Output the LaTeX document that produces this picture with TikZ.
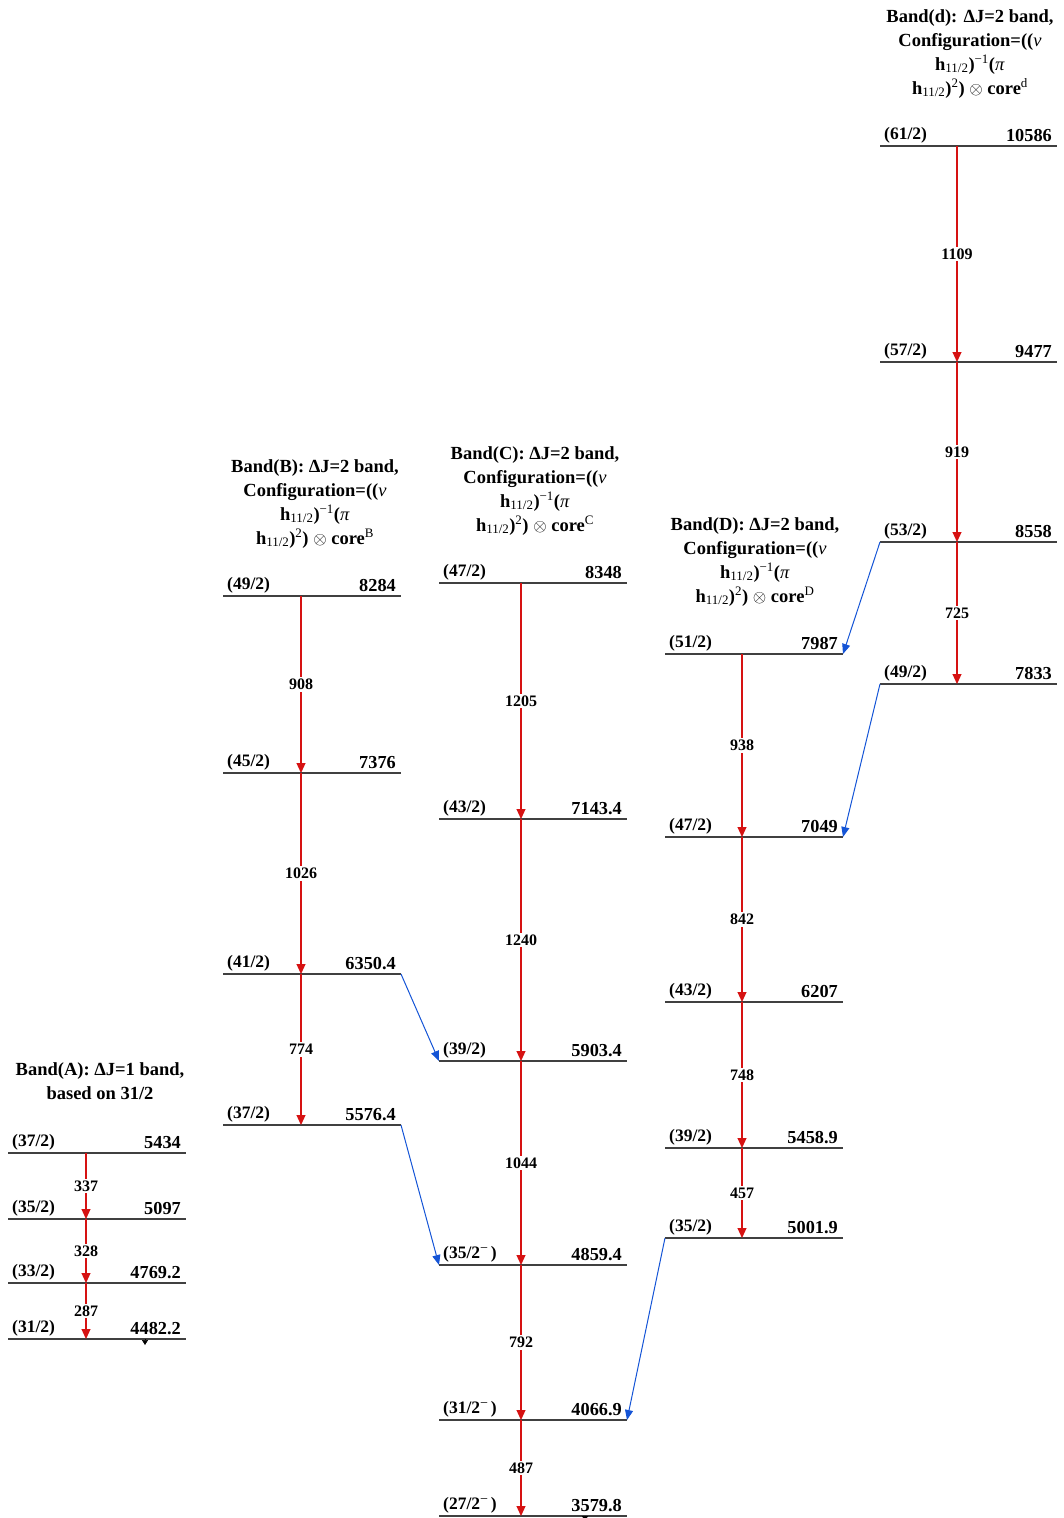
\documentclass[tikz,border=0pt]{standalone}
\usepackage{fontspec}
\setmainfont{Liberation Serif}
\usepackage{amsmath,amssymb}
\usepackage{tikz}
\usepackage{xcolor}
\usetikzlibrary{arrows.meta}

\definecolor{gamred}{RGB}{214,18,18}
\definecolor{linkblue}{RGB}{20,84,214}

\begin{document}
\begin{tikzpicture}[x=1pt,y=-1pt,
  lvl/.style={draw=black!75,line width=1.1pt},
  spin/.style={anchor=base west,inner sep=0pt,xshift=4pt,yshift=7pt,font=\fontsize{17.5}{20}\selectfont\bfseries},
  ener/.style={anchor=base east,inner sep=0pt,xshift=-5pt,yshift=5pt,font=\fontsize{18.3}{20}\selectfont\bfseries},
  gam/.style={draw=gamred,line width=1.1pt,-{Triangle[width=9pt,length=10pt]}},
  glab/.style={fill=white,inner sep=2pt,font=\fontsize{16}{18}\selectfont\bfseries},
  feed/.style={draw=linkblue,line width=1pt,-{Triangle[width=8pt,length=10pt]}},
  tick/.style={draw=black,line width=0.6pt,-{Triangle[width=6pt,length=5pt]}},
  band/.style={anchor=north,align=center,inner sep=0pt,font=\fontsize{18.5}{24}\selectfont\bfseries}]
\useasboundingbox (0,0) rectangle (1063,1518);

% band A
\node[band] (titA) at (100,1062) {Band(A): ΔJ=1 band,\\based on 31/2};
\draw[lvl] (8,1153) coordinate (A1w) -- (186,1153) coordinate (A1e);
\draw[lvl] (8,1219) coordinate (A2w) -- (186,1219) coordinate (A2e);
\draw[lvl] (8,1283) coordinate (A3w) -- (186,1283) coordinate (A3e);
\draw[lvl] (8,1339) coordinate (A4w) -- (186,1339) coordinate (A4e);
\node[spin] (A1s) at (A1w) {(37/2)};
\node[ener] (A1n) at (A1e) {5434};
\node[spin] (A2s) at (A2w) {(35/2)};
\node[ener] (A2n) at (A2e) {5097};
\node[spin] (A3s) at (A3w) {(33/2)};
\node[ener] (A3n) at (A3e) {4769.2};
\node[spin] (A4s) at (A4w) {(31/2)};
\node[ener] (A4n) at (A4e) {4482.2};
\coordinate (A1g) at (86,1153);
\coordinate (A2g) at (86,1219);
\coordinate (A3g) at (86,1283);
\coordinate (A4g) at (86,1339);
\draw[gam] (A1g) -- node[glab] {337} (A2g);
\draw[gam] (A2g) -- node[glab] {328} (A3g);
\draw[gam] (A3g) -- node[glab] {287} (A4g);
\coordinate (A4x) at (145,1339);
\coordinate (A4y) at (145,1345);
\draw[tick] (A4x) -- (A4y);

% band B
\node[band] (titB) at (315,459) {Band(B): ΔJ=2 band,\\Configuration=((\textit{\mdseries ν}\\h\textsubscript{\mdseries 11/2})\textsuperscript{\mdseries −1}(\textit{\mdseries π}\\h\textsubscript{\mdseries 11/2})\textsuperscript{\mdseries 2}) $\otimes$ core\textsuperscript{\mdseries B}};
\draw[lvl] (223,596) coordinate (B1w) -- (401,596) coordinate (B1e);
\draw[lvl] (223,773) coordinate (B2w) -- (401,773) coordinate (B2e);
\draw[lvl] (223,974) coordinate (B3w) -- (401,974) coordinate (B3e);
\draw[lvl] (223,1125) coordinate (B4w) -- (401,1125) coordinate (B4e);
\node[spin] (B1s) at (B1w) {(49/2)};
\node[ener] (B1n) at (B1e) {8284};
\node[spin] (B2s) at (B2w) {(45/2)};
\node[ener] (B2n) at (B2e) {7376};
\node[spin] (B3s) at (B3w) {(41/2)};
\node[ener] (B3n) at (B3e) {6350.4};
\node[spin] (B4s) at (B4w) {(37/2)};
\node[ener] (B4n) at (B4e) {5576.4};
\coordinate (B1g) at (301,596);
\coordinate (B2g) at (301,773);
\coordinate (B3g) at (301,974);
\coordinate (B4g) at (301,1125);
\draw[gam] (B1g) -- node[glab] {908} (B2g);
\draw[gam] (B2g) -- node[glab] {1026} (B3g);
\draw[gam] (B3g) -- node[glab] {774} (B4g);

% band C
\node[band] (titC) at (535,446) {Band(C): ΔJ=2 band,\\Configuration=((\textit{\mdseries ν}\\h\textsubscript{\mdseries 11/2})\textsuperscript{\mdseries −1}(\textit{\mdseries π}\\h\textsubscript{\mdseries 11/2})\textsuperscript{\mdseries 2}) $\otimes$ core\textsuperscript{\mdseries C}};
\draw[lvl] (439,583) coordinate (C1w) -- (627,583) coordinate (C1e);
\draw[lvl] (439,819) coordinate (C2w) -- (627,819) coordinate (C2e);
\draw[lvl] (439,1061) coordinate (C3w) -- (627,1061) coordinate (C3e);
\draw[lvl] (439,1265) coordinate (C4w) -- (627,1265) coordinate (C4e);
\draw[lvl] (439,1420) coordinate (C5w) -- (627,1420) coordinate (C5e);
\draw[lvl] (439,1516) coordinate (C6w) -- (627,1516) coordinate (C6e);
\node[spin] (C1s) at (C1w) {(47/2)};
\node[ener] (C1n) at (C1e) {8348};
\node[spin] (C2s) at (C2w) {(43/2)};
\node[ener] (C2n) at (C2e) {7143.4};
\node[spin] (C3s) at (C3w) {(39/2)};
\node[ener] (C3n) at (C3e) {5903.4};
\node[spin] (C4s) at (C4w) {(35/2\raisebox{6pt}{\fontsize{14}{14}\selectfont\mdseries −}\,)};
\node[ener] (C4n) at (C4e) {4859.4};
\node[spin] (C5s) at (C5w) {(31/2\raisebox{6pt}{\fontsize{14}{14}\selectfont\mdseries −}\,)};
\node[ener] (C5n) at (C5e) {4066.9};
\node[spin] (C6s) at (C6w) {(27/2\raisebox{6pt}{\fontsize{14}{14}\selectfont\mdseries −}\,)};
\node[ener] (C6n) at (C6e) {3579.8};
\coordinate (C1g) at (521,583);
\coordinate (C2g) at (521,819);
\coordinate (C3g) at (521,1061);
\coordinate (C4g) at (521,1265);
\coordinate (C5g) at (521,1420);
\coordinate (C6g) at (521,1516);
\draw[gam] (C1g) -- node[glab] {1205} (C2g);
\draw[gam] (C2g) -- node[glab] {1240} (C3g);
\draw[gam] (C3g) -- node[glab] {1044} (C4g);
\draw[gam] (C4g) -- node[glab] {792} (C5g);
\draw[gam] (C5g) -- node[glab] {487} (C6g);
\coordinate (C6x) at (585,1516);
\coordinate (C6y) at (585,1521);
\draw[tick] (C6x) -- (C6y);

% band D
\node[band] (titD) at (755,517) {Band(D): ΔJ=2 band,\\Configuration=((\textit{\mdseries ν}\\h\textsubscript{\mdseries 11/2})\textsuperscript{\mdseries −1}(\textit{\mdseries π}\\h\textsubscript{\mdseries 11/2})\textsuperscript{\mdseries 2}) $\otimes$ core\textsuperscript{\mdseries D}};
\draw[lvl] (665,654) coordinate (D1w) -- (843,654) coordinate (D1e);
\draw[lvl] (665,837) coordinate (D2w) -- (843,837) coordinate (D2e);
\draw[lvl] (665,1002) coordinate (D3w) -- (843,1002) coordinate (D3e);
\draw[lvl] (665,1148) coordinate (D4w) -- (843,1148) coordinate (D4e);
\draw[lvl] (665,1238) coordinate (D5w) -- (843,1238) coordinate (D5e);
\node[spin] (D1s) at (D1w) {(51/2)};
\node[ener] (D1n) at (D1e) {7987};
\node[spin] (D2s) at (D2w) {(47/2)};
\node[ener] (D2n) at (D2e) {7049};
\node[spin] (D3s) at (D3w) {(43/2)};
\node[ener] (D3n) at (D3e) {6207};
\node[spin] (D4s) at (D4w) {(39/2)};
\node[ener] (D4n) at (D4e) {5458.9};
\node[spin] (D5s) at (D5w) {(35/2)};
\node[ener] (D5n) at (D5e) {5001.9};
\coordinate (D1g) at (742,654);
\coordinate (D2g) at (742,837);
\coordinate (D3g) at (742,1002);
\coordinate (D4g) at (742,1148);
\coordinate (D5g) at (742,1238);
\draw[gam] (D1g) -- node[glab] {938} (D2g);
\draw[gam] (D2g) -- node[glab] {842} (D3g);
\draw[gam] (D3g) -- node[glab] {748} (D4g);
\draw[gam] (D4g) -- node[glab] {457} (D5g);

% band d
\node[band] (titE) at (970,9) {Band(d): ΔJ=2 band,\\Configuration=((\textit{\mdseries ν}\\h\textsubscript{\mdseries 11/2})\textsuperscript{\mdseries −1}(\textit{\mdseries π}\\h\textsubscript{\mdseries 11/2})\textsuperscript{\mdseries 2}) $\otimes$ core\textsuperscript{\mdseries d}};
\draw[lvl] (880,146) coordinate (E1w) -- (1057,146) coordinate (E1e);
\draw[lvl] (880,362) coordinate (E2w) -- (1057,362) coordinate (E2e);
\draw[lvl] (880,542) coordinate (E3w) -- (1057,542) coordinate (E3e);
\draw[lvl] (880,684) coordinate (E4w) -- (1057,684) coordinate (E4e);
\node[spin] (E1s) at (E1w) {(61/2)};
\node[ener] (E1n) at (E1e) {10586};
\node[spin] (E2s) at (E2w) {(57/2)};
\node[ener] (E2n) at (E2e) {9477};
\node[spin] (E3s) at (E3w) {(53/2)};
\node[ener] (E3n) at (E3e) {8558};
\node[spin] (E4s) at (E4w) {(49/2)};
\node[ener] (E4n) at (E4e) {7833};
\coordinate (E1g) at (957,146);
\coordinate (E2g) at (957,362);
\coordinate (E3g) at (957,542);
\coordinate (E4g) at (957,684);
\draw[gam] (E1g) -- node[glab] {1109} (E2g);
\draw[gam] (E2g) -- node[glab] {919} (E3g);
\draw[gam] (E3g) -- node[glab] {725} (E4g);

% links between bands
\draw[feed] (B3e) -- (C3w);
\draw[feed] (B4e) -- (C4w);
\draw[feed] (D5w) -- (C5e);
\draw[feed] (E3w) -- (D1e);
\draw[feed] (E4w) -- (D2e);
\end{tikzpicture}
\end{document}
